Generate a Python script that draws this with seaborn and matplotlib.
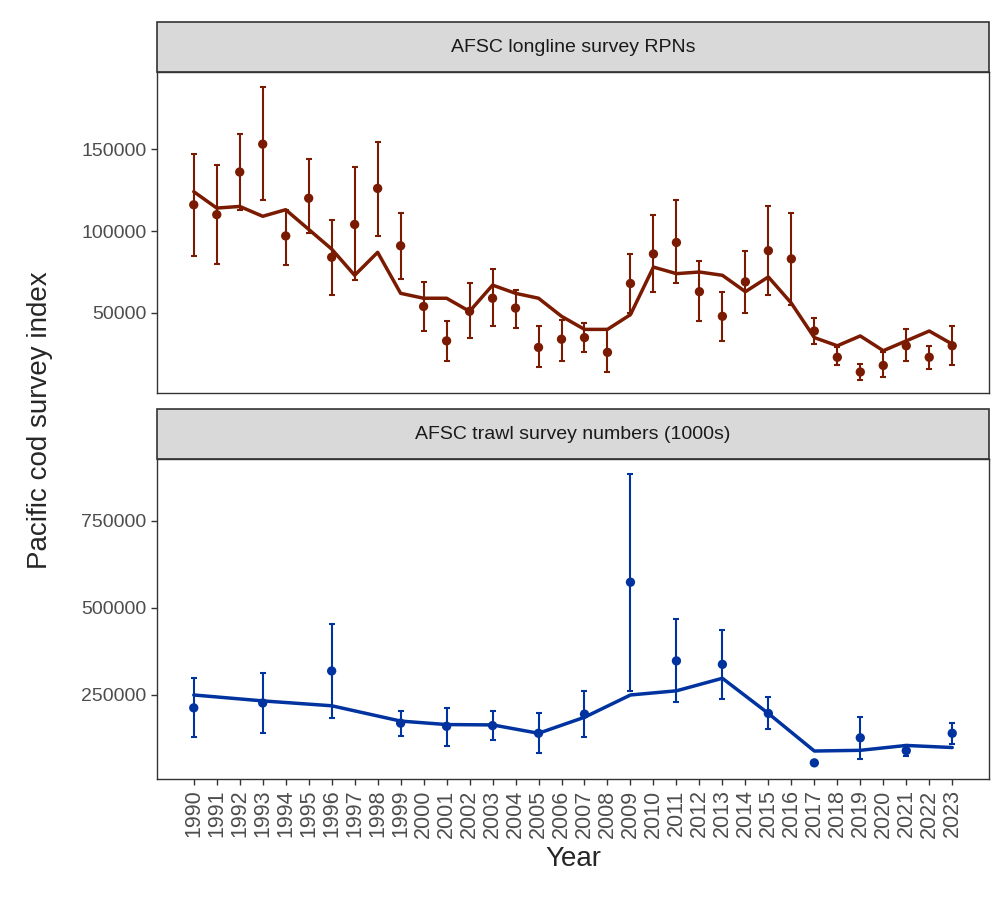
import numpy as np
import pandas as pd
import seaborn as sns
import matplotlib.pyplot as plt

# longline survey RPNs
ll_year = list(range(1990, 2024))
ll_obs = [116000, 110000, 136000, 153000, 97000, 120000, 84000, 104000, 126000, 91000,
          54000, 33000, 51000, 59000, 53000, 29000, 34000, 35000, 26000, 68000,
          86000, 93000, 63000, 48000, 69000, 88000, 83000, 39000, 23000, 14000,
          18000, 30000, 23000, 30000]
ll_hi = [147000, 140000, 159000, 188000, 113000, 144000, 107000, 139000, 154000, 111000,
         69000, 45000, 68000, 77000, 64000, 42000, 46000, 44000, 40000, 86000,
         110000, 119000, 82000, 63000, 88000, 115000, 111000, 47000, 29000, 19000,
         26000, 40000, 30000, 42000]
ll_lo = [85000, 80000, 113000, 119000, 79000, 99000, 61000, 70000, 97000, 71000,
         39000, 21000, 35000, 42000, 41000, 17000, 21000, 26000, 14000, 50000,
         63000, 68000, 45000, 33000, 50000, 61000, 55000, 31000, 18000, 9000,
         11000, 21000, 16000, 18000]
ll_pred = [124000, 114000, 115000, 109000, 113000, 101000, 89000, 73000, 87000, 62000,
           59000, 59000, 51000, 67000, 62000, 59000, 48000, 40000, 40000, 49000,
           78000, 74000, 75000, 73000, 63000, 72000, 56000, 35000, 30000, 36000,
           27000, 33000, 39000, 31000]

# trawl survey numbers
tw_year = [1990, 1993, 1996, 1999, 2001, 2003, 2005, 2007, 2009, 2011, 2013, 2015,
           2017, 2019, 2021, 2023]
tw_obs = [213000, 227000, 319000, 169000, 160000, 162000, 140000, 195000, 574000, 348000,
          338000, 197000, 55000, 127000, 90000, 140000]
tw_hi = [299000, 313000, 454000, 205000, 214000, 203000, 197000, 262000, 886000, 469000,
         438000, 243000, 60000, 188000, 105000, 170000]
tw_lo = [130000, 141000, 184000, 132000, 104000, 121000, 84000, 128000, 260000, 229000,
         239000, 151000, 51000, 66000, 74000, 110000]
tw_pred = [250000, 233000, 219000, 175000, 165000, 164000, 140000, 186000, 250000, 262000,
           298000, 197000, 89000, 91000, 105000, 99000]

sns.set_style('white')
plt.rcParams['font.family'] = ['Liberation Sans', 'DejaVu Sans']

fig = plt.figure(figsize=(10.08, 9.02), dpi=100)
ax1 = fig.add_axes([157/1008, 1-393/902, 832/1008, 321/902])
ax2 = fig.add_axes([157/1008, 1-779/902, 832/1008, 320/902])

panels = [
    (ax1, ll_year, ll_obs, ll_hi, ll_lo, ll_pred, '#7a1a00', 'AFSC longline survey RPNs',
     [50000, 100000, 150000], (1200, 197000)),
    (ax2, tw_year, tw_obs, tw_hi, tw_lo, tw_pred, '#00339f', 'AFSC trawl survey numbers (1000s)',
     [250000, 500000, 750000], (8600, 928000)),
]

for ax, yr, obs, hi, lo, pred, col, title, ticks, ylim in panels:
    df = pd.DataFrame({'year': yr, 'obs': obs, 'hi': hi, 'lo': lo, 'pred': pred})
    ax.errorbar(df.year, df.obs, yerr=[df.obs - df.lo, df.hi - df.obs], fmt='none',
                ecolor=col, elinewidth=1.5, capsize=2, capthick=1.5)
    sns.scatterplot(data=df, x='year', y='obs', color=col, s=45, edgecolor='none', ax=ax, zorder=3)
    sns.lineplot(data=df, x='year', y='pred', color=col, linewidth=2.5, ax=ax)
    ax.set_xlim(1988.4, 2024.6)
    ax.set_ylim(*ylim)
    ax.set_yticks(ticks)
    ax.set_yticklabels([str(t) for t in ticks], fontsize=14, color='#4d4d4d')
    ax.set_xlabel('')
    ax.set_ylabel('')
    ax.set_xticks(ll_year)
    ax.tick_params(axis='both', length=4, width=1, color='#333333', left=True, bottom=True)
    for s in ax.spines.values():
        s.set_color('#333333')
        s.set_linewidth(1)
    ax.text(0.5, 1.0 + 25/321, title, transform=ax.transAxes, ha='center', va='center',
            fontsize=14, color='#1a1a1a')
    strip = plt.Rectangle((0, 1.0), 1, 50/321, transform=ax.transAxes, clip_on=False,
                          fc='#d9d9d9', ec='#333333', lw=1.2)
    ax.add_patch(strip)

ax1.set_xticklabels([])
ax1.tick_params(axis='x', length=0)
ax2.set_xticklabels([str(y) for y in ll_year], rotation=90, fontsize=15.5, color='#4d4d4d')
ax2.set_xlabel('Year', fontsize=20, labelpad=6)
fig.text(40/1008, 1-420/902, 'Pacific cod survey index', rotation=90, ha='center', va='center',
         fontsize=20)

plt.savefig('out.png', dpi=100)
